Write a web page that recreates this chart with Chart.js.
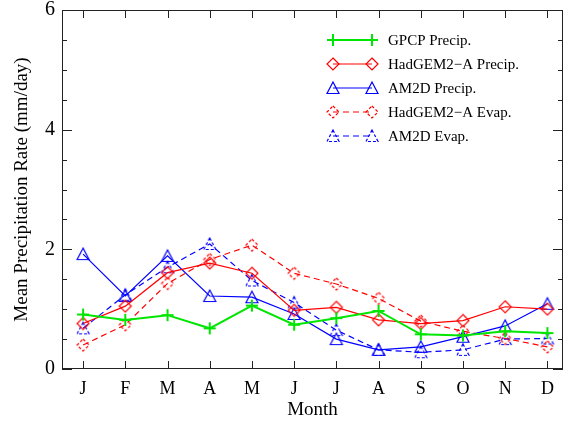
<!DOCTYPE html>
<html>
<head>
<meta charset="utf-8">
<script src="https://cdn.jsdelivr.net/npm/chart.js@4.4.1/dist/chart.umd.min.js"></script>
<style>
  html, body { margin: 0; padding: 0; background: #fff; }
  canvas { display: block; }
</style>
</head>
<body>
<canvas id="myChart" width="571" height="421"></canvas>
<script>
// month labels and series (mm/day)
var months = ['J', 'F', 'M', 'A', 'M', 'J', 'J', 'A', 'S', 'O', 'N', 'D'];
var yTicks = [0, 2, 4, 6];
var gpcpPrecip   = [0.91, 0.82, 0.90, 0.68, 1.06, 0.74, 0.85, 0.97, 0.58, 0.56, 0.63, 0.60];
var hadgemPrecip = [0.76, 1.05, 1.61, 1.77, 1.60, 0.98, 1.03, 0.82, 0.76, 0.81, 1.04, 1.00];
var am2dPrecip   = [1.92, 1.22, 1.89, 1.22, 1.20, 0.92, 0.50, 0.32, 0.37, 0.54, 0.72, 1.09];
var hadgemEvap   = [0.40, 0.74, 1.43, 1.83, 2.07, 1.60, 1.42, 1.18, 0.80, 0.63, 0.51, 0.37];
var am2dEvap     = [0.68, 1.24, 1.70, 2.09, 1.48, 1.11, 0.65, 0.32, 0.28, 0.32, 0.50, 0.51];

var FONT = "'Liberation Serif', 'DejaVu Serif', serif";

function toPoints(arr) {
    return arr.map(function(v, i) { return { x: i + 1, y: v }; });
}

// marker images (IDL-like symbols), optionally dashed
function makeMarker(shape, color, dashed, lw) {
    var c = document.createElement('canvas');
    c.width = 16; c.height = 16;
    var g = c.getContext('2d');
    g.strokeStyle = color;
    g.lineWidth = lw || 1.2;
    if (dashed) g.setLineDash([3, 2]);
    g.beginPath();
    if (shape === 'plus') {
        g.moveTo(2, 8); g.lineTo(14, 8);
        g.moveTo(8, 2); g.lineTo(8, 14);
    } else if (shape === 'diamond') {
        g.moveTo(8, 2); g.lineTo(14, 8); g.lineTo(8, 14); g.lineTo(2, 8); g.closePath();
    } else {
        g.moveTo(8, 2); g.lineTo(14, 13.5); g.lineTo(2, 13.5); g.closePath();
    }
    g.stroke();
    return c;
}

var green = 'rgb(0, 230, 0)';
var red = 'rgb(255, 0, 0)';
var blue = 'rgb(0, 0, 255)';

var seriesDefs = [
    { label: 'GPCP Precip.', data: gpcpPrecip, color: green, dash: [], width: 2, marker: makeMarker('plus', green, false, 2) },
    { label: 'HadGEM2\u2212A Precip.', data: hadgemPrecip, color: red, dash: [], width: 1.2, marker: makeMarker('diamond', red, false) },
    { label: 'AM2D Precip.', data: am2dPrecip, color: blue, dash: [], width: 1.2, marker: makeMarker('triangle', blue, false) },
    { label: 'HadGEM2\u2212A Evap.', data: hadgemEvap, color: red, dash: [6, 4], width: 1.2, marker: makeMarker('diamond', red, true) },
    { label: 'AM2D Evap.', data: am2dEvap, color: blue, dash: [6, 4], width: 1.2, marker: makeMarker('triangle', blue, true) }
];

// frame, inward ticks and legend
var framePlugin = {
    id: 'frame',
    afterDraw: function(chart) {
        var ctx = chart.ctx;
        var a = chart.chartArea;
        var xs = chart.scales.x, ys = chart.scales.y;
        ctx.save();
        ctx.strokeStyle = '#222';
        ctx.lineWidth = 1;
        ctx.strokeRect(a.left + 0.5, a.top + 0.5, a.right - a.left - 1, a.bottom - a.top - 1);
        ctx.beginPath();
        for (var v = 0; v <= 6.001; v += 0.5) {
            var py = Math.round(ys.getPixelForValue(v)) + 0.5;
            var len = (v % 2 === 0) ? 10 : 5;
            ctx.moveTo(a.left, py); ctx.lineTo(a.left + len, py);
            ctx.moveTo(a.right, py); ctx.lineTo(a.right - len, py);
        }
        for (var m = 1; m <= months.length; m++) {
            var px = Math.round(xs.getPixelForValue(m)) + 0.5;
            ctx.moveTo(px, a.bottom); ctx.lineTo(px, a.bottom - 8);
            ctx.moveTo(px, a.top); ctx.lineTo(px, a.top + 8);
        }
        ctx.stroke();

        // legend
        ctx.font = '15px ' + FONT;
        ctx.textBaseline = 'middle';
        ctx.fillStyle = '#000';
        seriesDefs.forEach(function(s, i) {
            var y = 40 + 24 * i;
            ctx.beginPath();
            ctx.strokeStyle = s.color;
            ctx.lineWidth = s.width;
            ctx.setLineDash(s.dash);
            ctx.moveTo(333, y); ctx.lineTo(372, y);
            ctx.stroke();
            ctx.setLineDash([]);
            ctx.drawImage(s.marker, 333 - 8, y - 8);
            ctx.drawImage(s.marker, 372 - 8, y - 8);
            ctx.fillText(s.label, 388, y + 1);
        });
        ctx.restore();
    }
};

var ctx = document.getElementById('myChart').getContext('2d');
var myChart = new Chart(ctx, {
    type: 'line',
    data: {
        datasets: seriesDefs.map(function(s) {
            return {
                label: s.label,
                data: toPoints(s.data),
                borderColor: s.color,
                backgroundColor: s.color,
                borderWidth: s.width,
                borderDash: s.dash,
                pointStyle: s.marker,
                pointRadius: 6,
                fill: false,
                tension: 0
            };
        })
    },
    options: {
        responsive: false,
        animation: false,
        layout: { padding: { top: 10, right: 4, left: 0, bottom: 0 } },
        scales: {
            x: {
                type: 'linear',
                min: 0.5,
                max: 12.37,
                afterFit: function(scale) {
                    scale.height = 52;
                    scale.paddingLeft = 0;
                    scale.paddingRight = 0;
                },
                afterBuildTicks: function(scale) {
                    scale.ticks = months.map(function(m, i) { return { value: i + 1 }; });
                },
                grid: { display: false, drawTicks: false },
                border: { display: false },
                ticks: {
                    autoSkip: false,
                    maxRotation: 0,
                    padding: 9,
                    color: '#000',
                    font: { family: FONT, size: 18 },
                    callback: function(v) { return months[v - 1]; }
                },
                title: {
                    display: true,
                    text: 'Month',
                    color: '#000',
                    padding: { top: 0, bottom: 0 },
                    font: { family: FONT, size: 19 }
                }
            },
            y: {
                min: 0,
                max: 6,
                afterFit: function(scale) {
                    scale.width = 62;
                    scale.paddingTop = 0;
                    scale.paddingBottom = 0;
                },
                afterBuildTicks: function(scale) {
                    scale.ticks = yTicks.map(function(v) { return { value: v }; });
                },
                grid: { display: false, drawTicks: false },
                border: { display: false },
                ticks: {
                    padding: 7,
                    color: '#000',
                    font: { family: FONT, size: 20 }
                },
                title: {
                    display: true,
                    text: 'Mean Precipitation Rate (mm/day)',
                    color: '#000',
                    padding: { top: 11, bottom: 0 },
                    font: { family: FONT, size: 19 }
                }
            }
        },
        plugins: {
            legend: { display: false },
            tooltip: { enabled: false }
        }
    },
    plugins: [framePlugin]
});
</script>
</body>
</html>
